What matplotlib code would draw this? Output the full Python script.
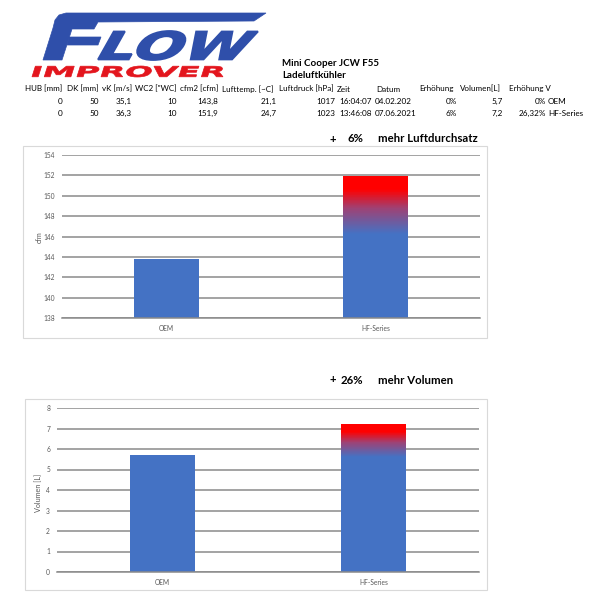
import numpy as np
import matplotlib
matplotlib.use("Agg")
import matplotlib.pyplot as plt
from matplotlib.transforms import Affine2D
from matplotlib.textpath import TextPath
from matplotlib.font_manager import FontProperties
from matplotlib.patches import PathPatch, Rectangle, Polygon
from matplotlib.colors import LinearSegmentedColormap

# ---------------- data ----------------
categories = ["OEM", "HF-Series"]
cfm_values = [143.8, 151.9]
vol_values = [5.7, 7.2]
cfm_ticks = list(range(138, 155, 2))
vol_ticks = list(range(0, 9, 1))

table_headers = ["HUB [mm]", "DK [mm]", "vK [m/s]", "WC2 [\"WC]", "cfm2 [cfm]",
                 "Lufttemp. [~C]", "Luftdruck [hPa]", "Zeit", "Datum",
                 "Erhöhung", "Volumen[L]", "Erhöhung V"]
table_row1 = ["0", "50", "35,1", "10", "143,8", "21,1", "1017", "16:04:07",
              "04.02.202", "0%", "5,7", "0%", "OEM"]
table_row2 = ["0", "50", "36,3", "10", "151,9", "24,7", "1023", "13:46:08",
              "07.06.2021", "6%", "7,2", "26,32%", "HF-Series"]

title_main = "Mini Cooper JCW F55"
title_sub = "Ladeluftkühler"
chart1_gain = "6%"
chart1_text = "mehr Luftdurchsatz"
chart2_gain = "26%"
chart2_text = "mehr Volumen"

# ---------------- figure ----------------
W, H = 600, 604
fig = plt.figure(figsize=(W / 100, H / 100), dpi=100)
fig.patch.set_facecolor("white")
pt = Affine2D().scale(1 / W, -1 / H).translate(0, 1) + fig.transFigure

FONT = "Lato"
BLUE = "#4472C4"
RED = "#FF0000"
GRID = "#8A8A8A"
TICK = "#595959"


def txt(x, y, s, size, bold=False, ha="left", **kw):
    fig.text(x, y, s, transform=pt, fontsize=size,
             fontweight="bold" if bold else "normal", fontstyle="normal",
             family=FONT, ha=ha, va="center", **kw)


def fit_text(s, x0, y0, x1, y1, prop, color, skew=0.0, lw=0.0):
    tp = TextPath((0, 0), s, prop=prop, size=50)
    p = Affine2D().skew_deg(skew, 0).transform_path(tp)
    bb = p.get_extents()
    sx = (x1 - x0) / bb.width
    sy = (y1 - y0) / bb.height
    tr = Affine2D().translate(-bb.x0, -bb.y0).scale(sx, -sy).translate(x0, y1)
    fig.add_artist(PathPatch(tr.transform_path(p), facecolor=color,
                             edgecolor=color if lw else "none", lw=lw,
                             transform=pt))


def poly(pts, color):
    fig.add_artist(Polygon(pts, closed=True, facecolor=color, edgecolor=color,
                           lw=0.5, transform=pt))


# ---------------- logo ----------------
LOGO_BLUE = "#2F4FAA"
LOGO_RED = "#E3151D"
# stripe + F (top bar, stem, middle bar)
poly([(53, 28), (55, 20), (59, 15), (66, 13), (266, 13), (254, 21),
      (98, 22), (94, 29), (72, 29), (62, 60), (43, 60)], LOGO_BLUE)
poly([(69, 37), (101, 37), (98, 45), (67, 45)], LOGO_BLUE)
fit_text("LOW", 98, 31, 258, 60,
         FontProperties(family="DejaVu Sans", weight="bold"), LOGO_BLUE,
         skew=20, lw=1.3)
fit_text("IMPROVER", 32, 66, 223, 77,
         FontProperties(family="DejaVu Sans", weight="bold"), LOGO_RED,
         skew=8, lw=0.5)

# ---------------- header text ----------------
txt(282, 63, title_main, 7.0, bold=True)
txt(282, 76, title_sub, 7.0, bold=True)

header_x = [25, 67, 102, 135, 180, 222, 279, 337, 376, 419, 460, 509]
for h, x in zip(table_headers, header_x):
    txt(x, 89, h, 5.8)

cell_x = [63, 99, 132, 177, 218, 277, 335, 339, 375, 457, 503, 546, 548]
cell_ha = ["right"] * 7 + ["left", "left"] + ["right"] * 3 + ["left"]
for row, y in ((table_row1, 101), (table_row2, 113)):
    for v, x, ha in zip(row, cell_x, cell_ha):
        txt(x, y, v, 5.9, ha=ha)

# ---------------- chart titles ----------------
for (gain, label, y) in ((chart1_gain, chart1_text, 139), (chart2_gain, chart2_text, 380)):
    txt(329, y, "+", 8.2, bold=True)
    txt(363, y, gain, 8.2, bold=True, ha="right")
    txt(378, y, label, 8.2, bold=True)

# ---------------- chart frames ----------------
fig.add_artist(Rectangle((23, 146), 464, 192, transform=pt, fill=False,
                         edgecolor="#D9D9D9", lw=0.8))
fig.add_artist(Rectangle((25, 399), 462, 191, transform=pt, fill=False,
                         edgecolor="#D9D9D9", lw=0.8))

grad_cmap = LinearSegmentedColormap.from_list(
    "bluered", [(0.0, BLUE), (0.45, "#9E4275"), (0.78, RED), (1.0, RED)])


def draw_chart(ax, values, ticks, grad_lo, ylabel, ylabel_pos):
    x = np.arange(len(categories))
    ax.bar(x, values, width=0.31, color=BLUE, zorder=2)
    # colour gradient on the upper part of the HF-Series bar:
    # each slice reaches up to the bar top, later slices cover earlier ones
    n = 80
    edges = np.linspace(grad_lo, values[1], n + 1)[:-1]
    cols = grad_cmap(np.linspace(0, 1, n))
    ax.bar(np.full(n, x[1]), values[1] - edges, bottom=edges, width=0.31,
           color=cols, lw=0, zorder=3)
    ax.set_xlim(-0.5, len(categories) - 0.5)
    ax.set_ylim(ticks[0], ticks[-1])
    ax.set_yticks(ticks)
    ax.set_xticks(x)
    ax.set_xticklabels(categories)
    ax.grid(axis="y", color=GRID, lw=1.1, zorder=0)
    ax.set_axisbelow(True)
    for s in ax.spines.values():
        s.set_visible(False)
    ax.spines["bottom"].set_visible(True)
    ax.spines["bottom"].set_color(GRID)
    ax.spines["bottom"].set_linewidth(1.1)
    ax.tick_params(axis="both", length=0, labelsize=4.8, colors=TICK)
    ax.tick_params(axis="y", pad=5)
    ax.tick_params(axis="x", pad=5)
    for lab in ax.get_xticklabels() + ax.get_yticklabels():
        lab.set_family(FONT)
    ax.set_facecolor("none")
    fig.text(ylabel_pos[0], ylabel_pos[1], ylabel, transform=pt, fontsize=5.2,
             color=TICK, family=FONT, rotation=90, ha="center", va="center")


ax1 = fig.add_axes([62 / W, 1 - 318 / H, 418 / W, 163 / H])
draw_chart(ax1, cfm_values, cfm_ticks, 146.2, "cfm", (39, 237))

ax2 = fig.add_axes([57 / W, 1 - 572 / H, 422 / W, 164 / H])
draw_chart(ax2, vol_values, vol_ticks, 5.6, "Volumen [L]", (39, 493))

fig.savefig("out.png", dpi=100, facecolor="white")
